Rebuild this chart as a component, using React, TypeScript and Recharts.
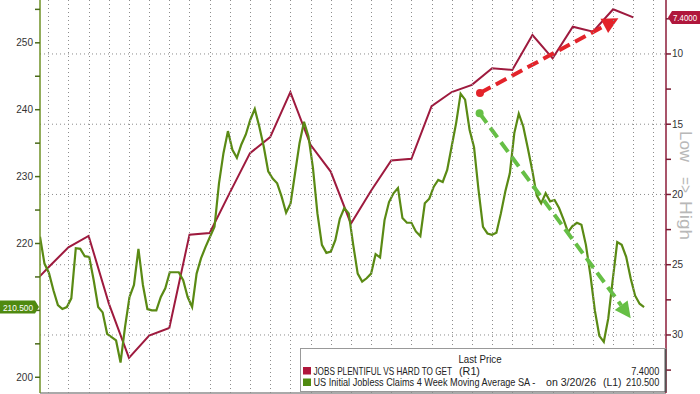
import React from "react";
import { LineChart, Line, XAxis, YAxis, ReferenceLine, CartesianGrid } from "recharts";

// weekly 4-week MA of initial claims (thousands)
const claimsFirstMonth = -0.41;
const claimsWeekStep = 0.2218;
const claims = [
  221.0, 217.0, 215.6, 213.0, 210.8, 210.2, 210.5, 211.8, 219.3, 219.2,
  218.1, 218.0, 214.5, 210.5, 209.7, 206.5, 206.0, 205.5, 202.2, 207.5,
  212.0, 213.8, 219.2, 213.8, 210.2, 210.0, 210.0, 212.0, 213.3, 215.7,
  215.7, 215.7, 214.5, 212.0, 210.5, 215.5, 217.8, 219.5, 221.0, 222.5,
  229.0, 233.5, 236.8, 234.0, 232.8, 234.8, 236.3, 238.5, 240.1, 237.5,
  234.5, 230.8, 229.7, 229.0, 227.0, 224.6, 226.0, 230.5, 235.0, 238.2,
  236.0, 231.3, 224.5, 219.8, 218.6, 218.8, 220.5, 223.7, 225.3, 224.5,
  219.8, 215.5, 214.3, 214.8, 215.5, 218.4, 217.9, 223.5, 226.2, 227.5,
  228.3, 223.8, 223.1, 223.1, 221.8, 221.1, 226.0, 226.7, 228.5, 229.5,
  229.2, 231.0, 234.5, 238.0, 242.4, 241.5, 237.0, 234.4, 228.0, 222.5,
  221.5, 221.3, 221.6, 224.5, 227.8, 230.5, 236.5, 239.4, 237.5, 234.3,
  231.0, 227.2, 226.0, 227.5, 226.3, 226.5, 225.3, 223.6, 221.7, 222.6,
  223.1, 222.8, 219.8, 215.3, 210.0, 206.2, 205.3, 208.8, 214.6, 220.2,
  219.8, 218.0, 214.8, 212.2, 211.0, 210.5,
];

// monthly jobs plentiful vs hard to get (right axis, inverted)
const jobsFirstMonth = -1;
const jobs = [
  26.7, 25.2, 23.76, 22.95, 27.75, 31.63, 30.04, 29.5, 22.86, 22.74,
  19.87, 17.06, 15.92, 12.72, 16.47, 18.37, 22.08, 19.74, 17.58, 17.46,
  13.72, 12.71, 12.2, 11.02, 11.14, 8.65, 10.31, 8.06, 8.42, 6.82, 7.4,
];

const lastClaims = 210.5;
const lastJobs = 7.4;

const leftTickValues = [200, 205, 210, 215, 220, 225, 230, 235, 240, 245, 250, 255];
const rightTickValues = [7.5, 10, 12.5, 15, 17.5, 20, 22.5, 25, 27.5, 30, 32.5];
const rightGridValues = [10, 15, 20, 25, 30];
const monthGrid = Array.from({ length: 31 }, (_, i) => i);

// trend annotations (x in months, y on right axis)
const redTrend = [{ x: 21.4, y: 12.78 }, { x: 28.26, y: 7.46 }];
const greenTrend = [{ x: 21.38, y: 14.22 }, { x: 28.87, y: 28.81 }];

const jobsLabel = "JOBS PLENTIFUL VS HARD TO GET";
const claimsLabel = "US Initial Jobless Claims 4 Week Moving Average SA -";
const claimsDate = "on 3/20/26";
const sideLabel = ["Low", "=>", "High"];

const RED = "#9e1a3e";
const GREEN = "#5a8a14";
const GRID = "#8c8c8c";
const FONT = "'Liberation Sans', Arial, sans-serif";
const PLOT_H = 393;

const rows = [
  ...claims.map((v, i) => ({ x: claimsFirstMonth + i * claimsWeekStep, claims: v })),
  ...jobs.map((v, i) => ({ x: jobsFirstMonth + i, jobs: v })),
].sort((a, b) => a.x - b.x);

// month ticks drawn as dotted vertical grid lines
const MonthTick = (props: any) => {
  const { x, y } = props;
  const gx = Math.round(x) + 0.5;
  return <line x1={gx} x2={gx} y1={y} y2={y - PLOT_H} stroke={GRID} strokeDasharray="1 3" />;
};

const LeftTick = (props: any) => {
  const { x, y, payload } = props;
  const v = payload.value;
  if (v === lastClaims) {
    return (
      <g>
        <polygon
          points={`${x - 40},${y - 6.5} ${x - 5},${y - 6.5} ${x - 1},${y} ${x - 5},${y + 6.5} ${x - 40},${y + 6.5}`}
          fill="#4f8a10"
        />
        <text
          x={x - 37}
          y={y + 3.5}
          fill="#fff"
          fontSize={9.5}
          fontFamily={FONT}
          textLength={30}
          lengthAdjust="spacingAndGlyphs"
        >
          {v.toFixed(3)}
        </text>
      </g>
    );
  }
  // the label under the last-value badge is hidden, as in the source
  const major = v % 10 === 0 && Math.abs(v - lastClaims) > 3;
  return (
    <g>
      <line x1={x - 5} x2={x} y1={y} y2={y} stroke="#4a6a1a" strokeWidth={1.5} />
      {major && (
        <text x={x - 7} y={y + 3.5} textAnchor="end" fill="#333" fontSize={10} fontFamily={FONT}>
          {v}
        </text>
      )}
    </g>
  );
};

const RightTick = (props: any) => {
  const { x, y, payload } = props;
  const v = payload.value;
  if (v === lastJobs) {
    return (
      <g>
        <polygon
          points={`${x + 2},${y} ${x + 6},${y - 6.5} ${x + 34},${y - 6.5} ${x + 34},${y + 6.5} ${x + 6},${y + 6.5}`}
          fill="#b0173c"
        />
        <text
          x={x + 7}
          y={y + 3.5}
          fill="#fff"
          fontSize={9}
          fontFamily={FONT}
          textLength={24}
          lengthAdjust="spacingAndGlyphs"
        >
          {v.toFixed(4)}
        </text>
      </g>
    );
  }
  const major = v % 5 === 0;
  return (
    <g>
      <line x1={x} x2={x + 5} y1={y} y2={y} stroke="#7a1a32" strokeWidth={1.5} />
      {major && (
        <text x={x + 6} y={y + 3.5} textAnchor="start" fill="#333" fontSize={10} fontFamily={FONT}>
          {v}
        </text>
      )}
    </g>
  );
};

const trendArrow = (color: string) => (p: any) => {
  const { x1, y1, x2, y2 } = p;
  const dx = x2 - x1;
  const dy = y2 - y1;
  const len = Math.hypot(dx, dy) || 1;
  const ux = dx / len;
  const uy = dy / len;
  const head = 16;
  const half = 8;
  const bx = x2 - ux * head;
  const by = y2 - uy * head;
  return (
    <g>
      <line x1={x1} y1={y1} x2={bx} y2={by} stroke={color} strokeWidth={4} strokeDasharray="12 6" />
      <circle cx={x1} cy={y1} r={4} fill={color} />
      <polygon
        points={`${x2},${y2} ${bx - uy * half},${by + ux * half} ${bx + uy * half},${by - ux * half}`}
        fill={color}
      />
    </g>
  );
};

// narrow terminal-style text: squeeze horizontally
const Txt = ({ x, y, sx, anchor, children }: any) => (
  <text transform={`translate(${x},${y}) scale(${sx},1)`} textAnchor={anchor || "start"}>
    {children}
  </text>
);

const LegendBox = () => (
  <g fontFamily={FONT} fontSize={10} fill="#222">
    <rect x={300.5} y={348.5} width={365} height={43} fill="#fff" stroke="#999" />
    <line x1={665.5} y1={349} x2={665.5} y2={392} stroke="#555" strokeWidth={2} />
    <Txt x={480} y={362.8} sx={0.97} anchor="middle">Last Price</Txt>
    <rect x={303} y={367} width={8} height={7.5} fill="#b0173c" />
    <Txt x={313.5} y={375} sx={0.82}>{jobsLabel}</Txt>
    <Txt x={459} y={375} sx={1.08}>(R1)</Txt>
    <Txt x={659.3} y={375} sx={0.92} anchor="end">{lastJobs.toFixed(4)}</Txt>
    <rect x={303} y={378.5} width={8} height={7.5} fill="#4f8a10" />
    <Txt x={313.5} y={386.3} sx={0.915}>{claimsLabel}</Txt>
    <Txt x={546} y={386.3} sx={1.06}>{claimsDate}</Txt>
    <Txt x={603} y={386.3} sx={1.04}>(L1)</Txt>
    <Txt x={659.3} y={386.3} sx={0.92} anchor="end">{lastClaims.toFixed(3)}</Txt>
  </g>
);

export default function App() {
  return (
    <div style={{ position: "absolute", left: 0, top: 0, width: 700, height: 394, background: "#fff" }}>
      <LineChart width={700} height={394} data={rows} margin={{ top: 0, right: 0, bottom: 0, left: 0 }}>
        <CartesianGrid
          yAxisId="right"
          vertical={false}
          horizontalValues={rightGridValues}
          stroke={GRID}
          strokeDasharray="1 3"
        />
        <XAxis
          type="number"
          dataKey="x"
          domain={[-0.41, 30.62]}
          allowDataOverflow
          ticks={monthGrid}
          interval={0}
          tick={<MonthTick />}
          tickLine={false}
          tickSize={0}
          tickMargin={0}
          height={1}
          axisLine={{ stroke: "#555" }}
        />
        <YAxis
          yAxisId="left"
          domain={[197.65, 256.4]}
          allowDataOverflow
          ticks={[...leftTickValues, lastClaims]}
          interval={0}
          width={40}
          tickSize={0}
          tickMargin={0}
          tick={<LeftTick />}
          axisLine={{ stroke: "#6f9226", strokeWidth: 1.5 }}
        />
        <YAxis
          yAxisId="right"
          orientation="right"
          reversed
          domain={[6.16, 34.13]}
          allowDataOverflow
          ticks={[...rightTickValues, lastJobs]}
          interval={0}
          width={34}
          tickSize={0}
          tickMargin={0}
          tick={<RightTick />}
          axisLine={{ stroke: "#8c1d3a", strokeWidth: 1.5 }}
        />
        <Line
          yAxisId="right"
          dataKey="jobs"
          type="linear"
          stroke={RED}
          strokeWidth={2}
          dot={false}
          connectNulls
          isAnimationActive={false}
        />
        <Line
          yAxisId="left"
          dataKey="claims"
          type="linear"
          stroke={GREEN}
          strokeWidth={2.2}
          dot={false}
          connectNulls
          isAnimationActive={false}
        />
        <ReferenceLine yAxisId="right" segment={redTrend} shape={trendArrow("#e3232a")} />
        <ReferenceLine yAxisId="right" segment={greenTrend} shape={trendArrow("#66bf45")} />
      </LineChart>
      <svg
        width={700}
        height={394}
        style={{ position: "absolute", left: 0, top: 0, pointerEvents: "none" }}
      >
        <g fontFamily={FONT} fontSize={17} fill="#b8b8b8">
          <text transform="translate(680,131) rotate(90)" textLength={31} lengthAdjust="spacingAndGlyphs">
            {sideLabel[0]}
          </text>
          <text transform="translate(680,177) rotate(90)" textLength={16} lengthAdjust="spacingAndGlyphs">
            {sideLabel[1]}
          </text>
          <text transform="translate(680,201) rotate(90)" textLength={39} lengthAdjust="spacingAndGlyphs">
            {sideLabel[2]}
          </text>
        </g>
        <LegendBox />
      </svg>
    </div>
  );
}
